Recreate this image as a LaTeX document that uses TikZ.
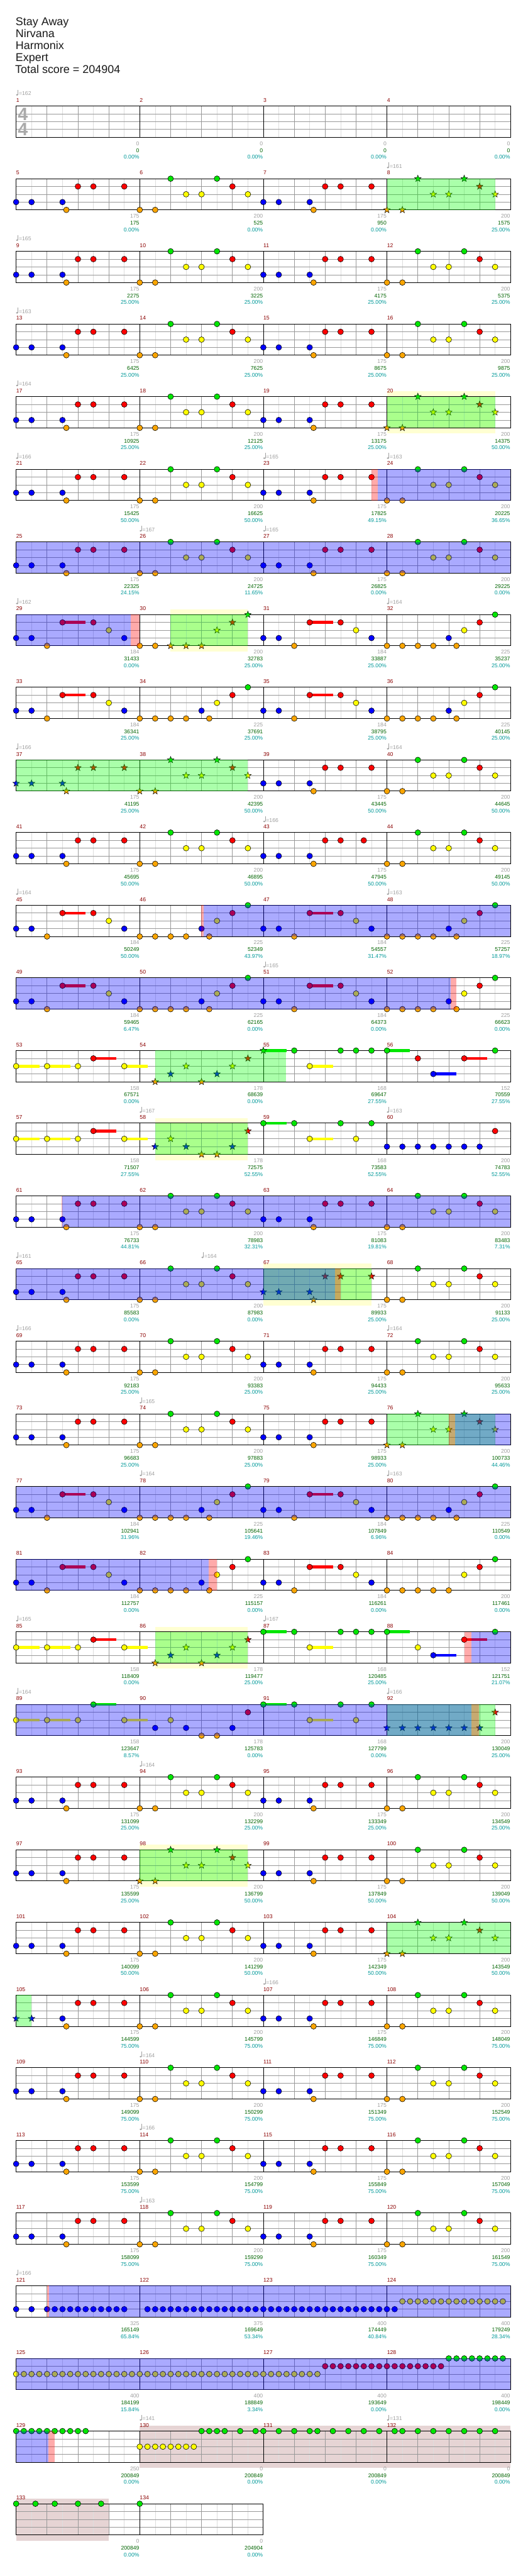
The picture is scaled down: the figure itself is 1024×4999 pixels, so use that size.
\documentclass[tikz,border=0pt]{standalone}
\usepackage{fontspec}
\setmainfont{Liberation Sans}
\definecolor{lc0}{RGB}{0,230,0}
\definecolor{lc1}{RGB}{255,0,0}
\definecolor{lc2}{RGB}{255,255,0}
\definecolor{lc3}{RGB}{0,0,255}
\definecolor{lc4}{RGB}{250,165,0}
\definecolor{cgray}{RGB}{160,160,160}
\definecolor{cgreen}{RGB}{0,100,0}
\definecolor{cteal}{RGB}{0,153,153}
\definecolor{cdred}{RGB}{139,0,0}
\definecolor{glight}{RGB}{221,221,221}
\definecolor{gbeat}{RGB}{153,153,153}
\definecolor{csig}{RGB}{170,170,170}
\definecolor{bandy}{RGB}{255,255,210}
\definecolor{rose}{RGB}{230,212,212}
\definecolor{ovg}{RGB}{0,255,0}
\definecolor{ovb}{RGB}{0,0,255}
\definecolor{ovr}{RGB}{255,0,0}
\tikzset{
 glt/.style={draw=glight,line width=0.8pt},
 gbt/.style={draw=gbeat,line width=0.8pt},
 smallf/.style={inner sep=0pt,font=\fontsize{10.6}{12}\selectfont},
 mnum/.style={smallf,text=cdred},
 cnt/.style={smallf,text=cgray},
 scr/.style={smallf,text=cgreen},
 pctx/.style={smallf,text=cteal},
 tmp/.style={smallf,text=cgray},
 hdr/.style={inner sep=0pt,text=black!90,font=\fontsize{21.9}{24}\selectfont},
 sig/.style={inner sep=0pt,text=csig,font=\fontsize{35}{36}\selectfont\bfseries}
}
\newif\ifStr
\newcommand\Sm[1]{\pgfmathtruncatemacro\Rr{floor((#1-1)/4)}%
 \pgfmathsetmacro\Mx{31.3+240*(#1-1-4*\Rr)}%
 \pgfmathsetmacro\Mt{205.7+141*\Rr}}
\newcommand\Nt[2]{%
 \ifStr
  \filldraw[fill=lc#1,draw=black,line width=0.6pt,shift={({\Mx+30*#2},{\Mt+15.15*#1})}] (270:6.8)--(306:2.8)--(342:6.8)--(18:2.8)--(54:6.8)--(90:2.8)--(126:6.8)--(162:2.8)--(198:6.8)--(234:2.8)--cycle;
 \else
  \filldraw[fill=lc#1,draw=black,line width=0.7pt] ({\Mx+30*#2},{\Mt+15.15*#1}) circle (5.5);
 \fi}
\newcommand\Sn[2]{{\Strtrue\Nt{#1}{#2}}}
\newcommand\Tl[3]{\draw[line width=5.5pt,draw=lc#1] ({\Mx+30*#2},{\Mt+15.15*#1}) -- ({\Mx+30*#3},{\Mt+15.15*#1});}
\newcommand\pA[1]{\Sm{#1}\Nt3{0}\Nt3{1}\Nt3{3}\Nt4{3.25}\Nt1{4}\Nt1{5}\Nt1{7}}
\newcommand\pAx[1]{\Sm{#1}\Nt3{0}\Nt3{1}\Nt3{3}\Nt4{3.25}\Nt1{4}\Nt1{5}\Nt1{6.5}}
\newcommand\pB[1]{\Sm{#1}\Nt4{0}\Nt4{1}\Nt0{2}\Nt2{3}\Nt2{4}\Nt0{5}\Nt1{6}\Nt2{7}}
\newcommand\pC[1]{\Sm{#1}\Tl1{3}{4.5}\Nt3{0}\Nt3{1}\Nt4{2}\Nt1{3}\Nt1{5}\Nt2{6}\Nt3{7}}
\newcommand\pD[1]{\Sm{#1}\Nt4{0}\Nt4{1}\Nt4{2}\Nt4{3}\Nt3{4}\Nt4{4.5}\Nt2{5}\Nt1{6}\Nt0{7}}
\newcommand\pE[1]{\Sm{#1}\Tl2{0}{1.5}\Tl2{2}{3.5}\Tl1{5}{6.5}\Tl2{7}{8.5}\Nt2{0}\Nt2{2}\Nt2{4}\Nt1{5}\Nt2{7}}
\newcommand\pF[1]{\Sm{#1}\Nt4{1}\Nt3{2}\Nt2{3}\Nt4{4}\Nt3{5}\Nt2{6}\Nt1{7}}
\newcommand\pG[1]{\Sm{#1}\Nt3{1}\Nt2{2}\Nt3{3}\Nt4{4}\Nt4{5}\Nt3{6}\Nt1{7}}
\newcommand\pI[1]{\Sm{#1}\Tl0{0}{1.5}\Tl2{3}{4.5}\Nt0{0}\Nt0{2}\Nt2{3}\Nt0{5}\Nt2{6}\Nt0{7}}
\newcommand\Staff[2]{%
 \pgfmathsetmacro\Yt{205.7+141*#1}%
 \pgfmathsetmacro\Xe{31.3+240*#2}%
 \pgfmathtruncatemacro\Ne{8*#2-1}%
 \pgfmathtruncatemacro\Nm{#2-1}%
 \foreach \k in {1,3,...,\Ne}{\draw[glt] ({31.3+30*\k},\Yt) -- ({31.3+30*\k},{\Yt+60.6});}%
 \foreach \k in {2,4,...,\Ne}{\pgfmathtruncatemacro\md{mod(\k,8)}\ifnum\md=0\relax\else\draw[gbt] ({31.3+30*\k},\Yt) -- ({31.3+30*\k},{\Yt+60.6});\fi}%
 \foreach \i in {1,2,3}{\draw[gbt] (31.3,{\Yt+15.15*\i}) -- (\Xe,{\Yt+15.15*\i});}%
 \foreach \k in {1,...,\Nm}{\draw[black,line width=1pt] ({31.3+240*\k},\Yt) -- ({31.3+240*\k},{\Yt+60.6});}%
 \draw[black,line width=1.2pt] (31.3,\Yt) rectangle (\Xe,{\Yt+60.6});}
\newcommand\Mm[4]{\Sm{#1}%
 \node[anchor=base west,mnum] (mn#1) at (\Mx,{\Mt-7.7}) {#1};%
 \node[anchor=base east,cnt] (ct#1) at ({\Mx+239.3},{\Mt+76.4}) {#2};%
 \node[anchor=base east,scr] (sc#1) at ({\Mx+239.3},{\Mt+89.7}) {#3};%
 \node[anchor=base east,pctx] (pc#1) at ({\Mx+239.3},{\Mt+102.7}) {#4\%};}
\newcommand\Tp[3]{\Sm{#1}\pgfmathsetmacro\Tx{\Mx+30*#2}%
 \fill[cgray] ({\Tx+1.8},{\Mt-21.6}) ellipse (2.1 and 1.6);%
 \draw[cgray,line width=0.8pt] ({\Tx+3.6},{\Mt-21.6}) -- ({\Tx+3.6},{\Mt-31.7});%
 \node[anchor=base west,tmp] (tp#1x#2) at ({\Tx+5.2},{\Mt-20.4}) {=#3};}
\newcommand\Bd[4]{\fill[#4] (#2,{205.7+141*#1-10}) rectangle (#3,{205.7+141*#1+71.5});}
\newcommand\Ov[4]{\fill[#4,fill opacity=0.335] (#2,{205.7+141*#1}) rectangle (#3,{205.7+141*#1+60.6});}
\begin{document}
\begin{tikzpicture}[x=1pt,y=-1pt]
\useasboundingbox (0,0) rectangle (1024,4999);
\fill[white] (0,0) rectangle (1024,4999);
% header
\node[anchor=base west,hdr] (h1) at (30.3,50) {Stay Away};
\node[anchor=base west,hdr] (h2) at (30.3,72.7) {Nirvana};
\node[anchor=base west,hdr] (h3) at (30.3,95.7) {Harmonix};
\node[anchor=base west,hdr] (h4) at (30.3,118.7) {Expert};
\node[anchor=base west,hdr] (h5) at (29.3,141.7) {Total score = 204904};
% bands
\Bd{4}{751.3}{961.3}{bandy}
\Bd{7}{331.3}{481.3}{bandy}
\Bd{14}{301.3}{481.3}{bandy}
\Bd{16}{511.3}{721.3}{bandy}
\Bd{21}{301.3}{481.3}{bandy}
\Bd{24}{271.3}{481.3}{bandy}
\Bd{32}{271.3}{991.3}{rose}
\Bd{33}{31.3}{211.3}{rose}
% staffs
\foreach \r in {0,...,32}{\Staff{\r}{4}}
\Staff{33}{2}
% time signature
\node[anchor=base west,sig] (ts1) at (34.5,233.3) {4};
\node[anchor=base west,sig] (ts2) at (34.5,263.3) {4};
% tempos
\Tp{1}{0}{162}\Tp{8}{0}{161}\Tp{9}{0}{165}\Tp{13}{0}{163}\Tp{17}{0}{164}
\Tp{21}{0}{166}\Tp{23}{0}{165}\Tp{24}{0}{163}\Tp{26}{0}{167}\Tp{27}{0}{165}
\Tp{29}{0}{162}\Tp{32}{0}{164}\Tp{37}{0}{166}\Tp{40}{0}{164}\Tp{43}{0}{166}
\Tp{45}{0}{164}\Tp{48}{0}{163}\Tp{51}{0}{165}\Tp{58}{0}{167}\Tp{60}{0}{163}
\Tp{65}{0}{161}\Tp{66}{4}{164}\Tp{69}{0}{166}\Tp{72}{0}{164}\Tp{74}{0}{165}
\Tp{78}{0}{164}\Tp{80}{0}{163}\Tp{85}{0}{165}\Tp{87}{0}{167}\Tp{89}{0}{164}
\Tp{92}{0}{166}\Tp{94}{0}{164}\Tp{107}{0}{166}\Tp{110}{0}{164}\Tp{114}{0}{166}
\Tp{118}{0}{163}\Tp{121}{0}{166}\Tp{130}{0}{141}\Tp{132}{0}{131}
% measure texts
\Mm{1}{0}{0}{0.00}\Mm{2}{0}{0}{0.00}\Mm{3}{0}{0}{0.00}\Mm{4}{0}{0}{0.00}
\Mm{5}{175}{175}{0.00}\Mm{6}{200}{525}{0.00}\Mm{7}{175}{950}{0.00}\Mm{8}{200}{1575}{25.00}
\Mm{9}{175}{2275}{25.00}\Mm{10}{200}{3225}{25.00}\Mm{11}{175}{4175}{25.00}\Mm{12}{200}{5375}{25.00}
\Mm{13}{175}{6425}{25.00}\Mm{14}{200}{7625}{25.00}\Mm{15}{175}{8675}{25.00}\Mm{16}{200}{9875}{25.00}
\Mm{17}{175}{10925}{25.00}\Mm{18}{200}{12125}{25.00}\Mm{19}{175}{13175}{25.00}\Mm{20}{200}{14375}{50.00}
\Mm{21}{175}{15425}{50.00}\Mm{22}{200}{16625}{50.00}\Mm{23}{175}{17825}{49.15}\Mm{24}{200}{20225}{36.65}
\Mm{25}{175}{22325}{24.15}\Mm{26}{200}{24725}{11.65}\Mm{27}{175}{26825}{0.00}\Mm{28}{200}{29225}{0.00}
\Mm{29}{184}{31433}{0.00}\Mm{30}{200}{32783}{25.00}\Mm{31}{184}{33887}{25.00}\Mm{32}{225}{35237}{25.00}
\Mm{33}{184}{36341}{25.00}\Mm{34}{225}{37691}{25.00}\Mm{35}{184}{38795}{25.00}\Mm{36}{225}{40145}{25.00}
\Mm{37}{175}{41195}{25.00}\Mm{38}{200}{42395}{50.00}\Mm{39}{175}{43445}{50.00}\Mm{40}{200}{44645}{50.00}
\Mm{41}{175}{45695}{50.00}\Mm{42}{200}{46895}{50.00}\Mm{43}{175}{47945}{50.00}\Mm{44}{200}{49145}{50.00}
\Mm{45}{184}{50249}{50.00}\Mm{46}{225}{52349}{43.97}\Mm{47}{184}{54557}{31.47}\Mm{48}{225}{57257}{18.97}
\Mm{49}{184}{59465}{6.47}\Mm{50}{225}{62165}{0.00}\Mm{51}{184}{64373}{0.00}\Mm{52}{225}{66623}{0.00}
\Mm{53}{158}{67571}{0.00}\Mm{54}{178}{68639}{0.00}\Mm{55}{168}{69647}{27.55}\Mm{56}{152}{70559}{27.55}
\Mm{57}{158}{71507}{27.55}\Mm{58}{178}{72575}{52.55}\Mm{59}{168}{73583}{52.55}\Mm{60}{200}{74783}{52.55}
\Mm{61}{175}{76733}{44.81}\Mm{62}{200}{78983}{32.31}\Mm{63}{175}{81083}{19.81}\Mm{64}{200}{83483}{7.31}
\Mm{65}{175}{85583}{0.00}\Mm{66}{200}{87983}{0.00}\Mm{67}{175}{89933}{25.00}\Mm{68}{200}{91133}{25.00}
\Mm{69}{175}{92183}{25.00}\Mm{70}{200}{93383}{25.00}\Mm{71}{175}{94433}{25.00}\Mm{72}{200}{95633}{25.00}
\Mm{73}{175}{96683}{25.00}\Mm{74}{200}{97883}{25.00}\Mm{75}{175}{98933}{25.00}\Mm{76}{200}{100733}{44.46}
\Mm{77}{184}{102941}{31.96}\Mm{78}{225}{105641}{19.46}\Mm{79}{184}{107849}{6.96}\Mm{80}{225}{110549}{0.00}
\Mm{81}{184}{112757}{0.00}\Mm{82}{225}{115157}{0.00}\Mm{83}{184}{116261}{0.00}\Mm{84}{200}{117461}{0.00}
\Mm{85}{158}{118409}{0.00}\Mm{86}{178}{119477}{25.00}\Mm{87}{168}{120485}{25.00}\Mm{88}{152}{121751}{21.07}
\Mm{89}{158}{123647}{8.57}\Mm{90}{178}{125783}{0.00}\Mm{91}{168}{127799}{0.00}\Mm{92}{200}{130049}{25.00}
\Mm{93}{175}{131099}{25.00}\Mm{94}{200}{132299}{25.00}\Mm{95}{175}{133349}{25.00}\Mm{96}{200}{134549}{25.00}
\Mm{97}{175}{135599}{25.00}\Mm{98}{200}{136799}{50.00}\Mm{99}{175}{137849}{50.00}\Mm{100}{200}{139049}{50.00}
\Mm{101}{175}{140099}{50.00}\Mm{102}{200}{141299}{50.00}\Mm{103}{175}{142349}{50.00}\Mm{104}{200}{143549}{50.00}
\Mm{105}{175}{144599}{75.00}\Mm{106}{200}{145799}{75.00}\Mm{107}{175}{146849}{75.00}\Mm{108}{200}{148049}{75.00}
\Mm{109}{175}{149099}{75.00}\Mm{110}{200}{150299}{75.00}\Mm{111}{175}{151349}{75.00}\Mm{112}{200}{152549}{75.00}
\Mm{113}{175}{153599}{75.00}\Mm{114}{200}{154799}{75.00}\Mm{115}{175}{155849}{75.00}\Mm{116}{200}{157049}{75.00}
\Mm{117}{175}{158099}{75.00}\Mm{118}{200}{159299}{75.00}\Mm{119}{175}{160349}{75.00}\Mm{120}{200}{161549}{75.00}
\Mm{121}{325}{165149}{65.84}\Mm{122}{375}{169649}{53.34}\Mm{123}{400}{174449}{40.84}\Mm{124}{400}{179249}{28.34}
\Mm{125}{400}{184199}{15.84}\Mm{126}{400}{188849}{3.34}\Mm{127}{400}{193649}{0.00}\Mm{128}{400}{198449}{0.00}
\Mm{129}{250}{200849}{0.00}\Mm{130}{0}{200849}{0.00}\Mm{131}{0}{200849}{0.00}\Mm{132}{0}{200849}{0.00}
\Mm{133}{0}{200849}{0.00}\Mm{134}{0}{204904}{0.00}
% notes
\pA{5}\pB{6}\pA{7}{\Strtrue\pB{8}}
\pA{9}\pB{10}\pA{11}\pB{12}
\pA{13}\pB{14}\pA{15}\pB{16}
\pA{17}\pB{18}\pA{19}{\Strtrue\pB{20}}
\pA{21}\pB{22}\pA{23}\pB{24}
\pA{25}\pB{26}\pA{27}\pB{28}
\pC{29}
\Sm{30}\Nt4{0}\Nt4{1}\Sn4{2}\Sn4{3}\Sn4{4}\Sn2{5}\Sn1{6}\Sn0{7}
\pC{31}\pD{32}
\pC{33}\pD{34}\pC{35}\pD{36}
{\Strtrue\pA{37}\pB{38}}\pA{39}\pB{40}
\pA{41}\pB{42}\pAx{43}\pB{44}
\pC{45}\pD{46}\pC{47}\pD{48}
\pC{49}\pD{50}\pC{51}\pD{52}
\pE{53}{\Strtrue\pF{54}}
\Sm{55}\Tl0{0}{1.5}\Tl2{3}{4.5}\Sn0{0}\Nt0{2}\Nt2{3}\Nt0{5}\Nt0{6}\Nt0{7}
\Sm{56}\Tl0{0}{1.5}\Tl3{3}{4.5}\Tl1{5}{6.5}\Nt0{0}\Nt1{2}\Nt3{3}\Nt1{5}\Nt0{7}
\pE{57}{\Strtrue\pG{58}}\pI{59}
\Sm{60}\Nt3{0}\Nt3{1}\Nt3{2}\Nt3{3}\Nt3{4}\Nt3{5}\Nt3{6}\Nt1{7}
\pA{61}\pB{62}\pA{63}\pB{64}
\pA{65}\pB{66}{\Strtrue\pA{67}}\pB{68}
\pA{69}\pB{70}\pA{71}\pB{72}
\pA{73}\pB{74}\pA{75}{\Strtrue\pB{76}}
\pC{77}\pD{78}\pC{79}\pD{80}
\pC{81}\pD{82}\pC{83}
\Sm{84}\Nt4{0}\Nt4{1}\Nt4{2}\Nt4{3}\Nt4{4}\Nt2{5}\Nt1{6}\Nt0{7}
\pE{85}{\Strtrue\pF{86}}
\Sm{87}\Tl0{0}{1.5}\Tl2{3}{4.5}\Nt0{0}\Nt0{2}\Nt2{3}\Nt0{5}\Nt0{6}\Nt0{7}
\Sm{88}\Tl0{0}{1.5}\Tl3{3}{4.5}\Tl1{5}{6.5}\Nt0{0}\Nt2{2}\Nt3{3}\Nt1{5}\Nt0{7}
\Sm{89}\Tl2{0}{1.5}\Tl2{2}{3.5}\Tl0{5}{6.5}\Tl2{7}{8.5}\Nt2{0}\Nt2{2}\Nt2{4}\Nt0{5}\Nt2{7}
\pG{90}\pI{91}
{\Strtrue\Sm{92}\Nt3{0}\Nt3{1}\Nt3{2}\Nt3{3}\Nt3{4}\Nt3{5}\Nt3{6}\Nt1{7}}
\pA{93}\pB{94}\pA{95}\pB{96}
\pA{97}{\Strtrue\pB{98}}\pA{99}\pB{100}
\pA{101}\pB{102}\pA{103}{\Strtrue\pB{104}}
\Sm{105}\Sn3{0}\Sn3{1}\Nt3{3}\Nt4{3.25}\Nt1{4}\Nt1{5}\Nt1{7}
\pB{106}\pA{107}\pB{108}
\pA{109}\pB{110}\pA{111}\pB{112}
\pA{113}\pB{114}\pA{115}\pB{116}
\pA{117}\pB{118}\pA{119}\pB{120}
\Sm{121}\Nt3{0}\Nt3{1}\foreach \p in {2,2.5,...,7}{\Nt3{\p}}
\Sm{122}\foreach \p in {0.5,1,...,7.5}{\Nt3{\p}}
\Sm{123}\foreach \p in {0,0.5,...,7.5}{\Nt3{\p}}
\Sm{124}\Nt3{0}\Nt3{0.5}\foreach \p in {1,1.5,...,7.5}{\Nt2{\p}}
\Sm{125}\foreach \p in {0,0.5,...,7.5}{\Nt2{\p}}
\Sm{126}\foreach \p in {0,0.5,...,7.5}{\Nt2{\p}}
\Sm{127}\foreach \p in {0,0.5,...,3.5}{\Nt2{\p}}\foreach \p in {4,4.5,...,7.5}{\Nt1{\p}}
\Sm{128}\foreach \p in {0,0.5,...,3.5}{\Nt1{\p}}\foreach \p in {4,4.5,...,7.5}{\Nt0{\p}}
\Sm{129}\foreach \p in {0,0.5,...,4.5}{\Nt0{\p}}
\Sm{130}\foreach \p in {0,0.5,...,3.5}{\Nt2{\p}}\foreach \p in {4,4.5,5,5.5,6.5,7.5}{\Nt0{\p}}
\Sm{131}\foreach \p in {0,1,2,3,3.5,4.5,5.5,6.5,7.5}{\Nt0{\p}}
\Sm{132}\foreach \p in {0.5,1,2,3,4,5,6,7}{\Nt0{\p}}
\Sm{133}\foreach \p in {0,1.25,2.5,4,5.5}{\Nt0{\p}}
\Sm{134}\Nt0{0}
% overlays (green first, then red, then blue)
\Ov{1}{751.3}{961.3}{ovg}
\Ov{4}{751.3}{961.3}{ovg}
\Ov{5}{721.3}{733.5}{ovr}\Ov{5}{733.5}{991.3}{ovb}
\Ov{6}{31.3}{991.3}{ovb}
\Ov{7}{331.3}{481.3}{ovg}\Ov{7}{31.3}{254}{ovb}\Ov{7}{254}{271.3}{ovr}
\Ov{9}{31.3}{481.3}{ovg}
\Ov{11}{390}{395}{ovr}\Ov{11}{395}{991.3}{ovb}
\Ov{12}{31.3}{875}{ovb}\Ov{12}{875}{886}{ovr}
\Ov{13}{301.3}{555}{ovg}
\Ov{14}{301.3}{481.3}{ovg}
\Ov{15}{119}{121.3}{ovr}\Ov{15}{121.3}{991.3}{ovb}
\Ov{16}{511.3}{721.3}{ovg}\Ov{16}{651}{661}{ovr}\Ov{16}{31.3}{651}{ovb}
\Ov{18}{751.3}{961.3}{ovg}\Ov{18}{871}{884}{ovr}\Ov{18}{884}{991.3}{ovb}
\Ov{19}{31.3}{991.3}{ovb}
\Ov{20}{31.3}{405}{ovb}\Ov{20}{405}{421.3}{ovr}
\Ov{21}{301.3}{481.3}{ovg}\Ov{21}{901.3}{915}{ovr}\Ov{21}{915}{991.3}{ovb}
\Ov{22}{751.3}{961.3}{ovg}\Ov{22}{915}{930}{ovr}\Ov{22}{31.3}{915}{ovb}
\Ov{24}{271.3}{481.3}{ovg}
\Ov{25}{751.3}{991.3}{ovg}
\Ov{26}{31.3}{61.3}{ovg}
\Ov{30}{91.3}{94.7}{ovr}\Ov{30}{94.7}{991.3}{ovb}
\Ov{31}{31.3}{991.3}{ovb}
\Ov{32}{31.3}{93.4}{ovb}\Ov{32}{93.4}{105.8}{ovr}
\end{tikzpicture}
\end{document}
